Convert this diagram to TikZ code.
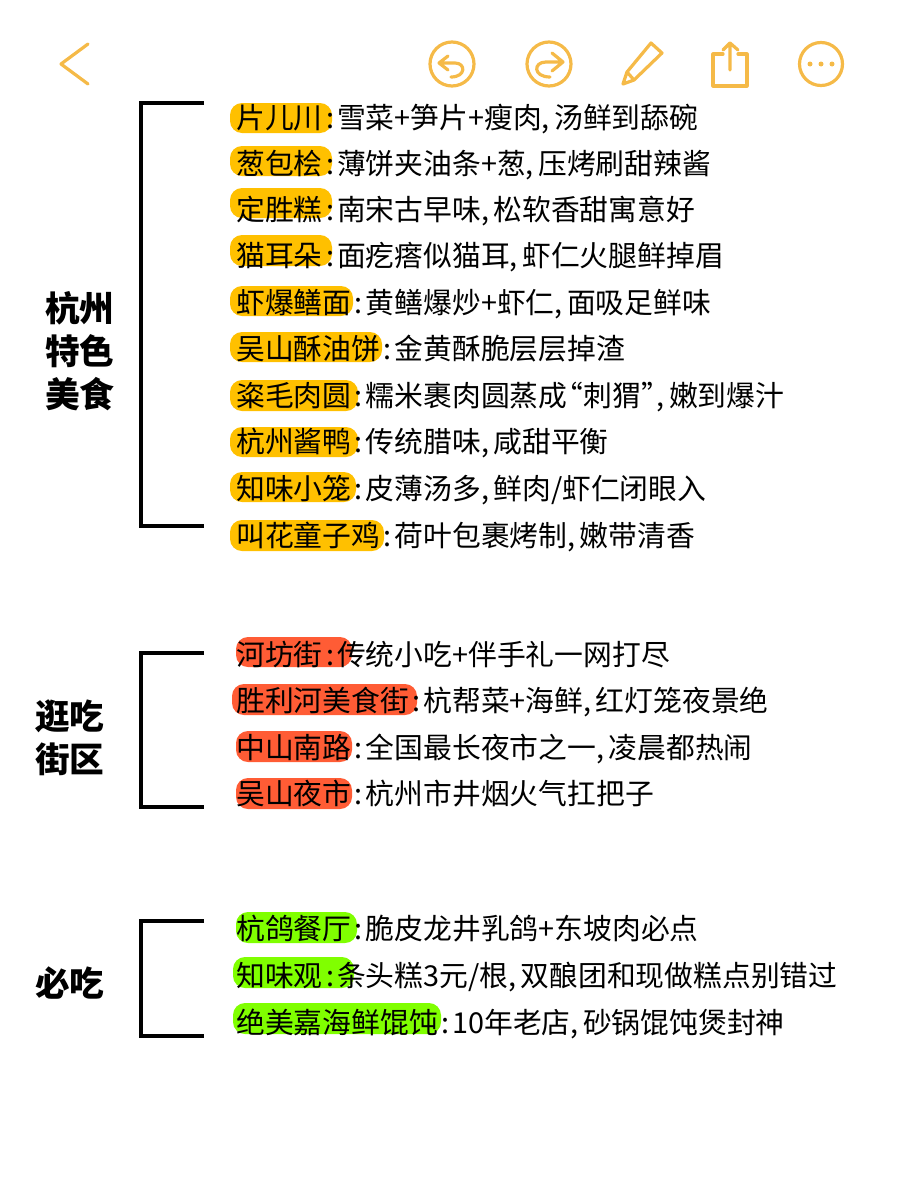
\documentclass[tikz,border=0pt]{standalone}
\usepackage{fontspec}
\setmainfont{Noto Sans CJK SC}
\usepackage{xcolor}
\usetikzlibrary{positioning}
\definecolor{iconcolor}{RGB}{245,186,72}
\definecolor{foodcolor}{RGB}{255,192,0}
\definecolor{streetcolor}{RGB}{255,92,53}
\definecolor{mustcolor}{RGB}{128,255,0}
\newcommand{\lsep}{\kern2.6pt:\kern2.3pt}
\newcommand{\csep}{,\kern3.2pt}

\begin{document}
\begin{tikzpicture}[
    x=0.75pt, y=-0.75pt,
    line/.style={anchor=west, inner sep=0pt, text height=19.25pt, text depth=2.5pt, font=\fontsize{21.6}{26}\selectfont},
    title/.style={anchor=center, inner sep=0pt, align=center, font=\fontsize{26}{32}\selectfont\bfseries},
    pill/.style={rounded corners=9pt},
    bracket/.style={draw, line width=3pt, miter limit=10},
    icon/.style={draw=iconcolor, line width=2.4pt, line cap=round, line join=round}
]
    \useasboundingbox (0,0) rectangle (900,1200);

    % top bar
    \draw[icon] (88,44) -- (61,64) -- (88,84);
    \draw[icon] (452,64) circle (22);
    \draw[icon] (448,56) -- (439,63) -- (448,70) (439,63) -- (455,63) .. controls (466,63) and (466,77) .. (451,77);
    \draw[icon] (549,64) circle (22);
    \draw[icon] (552,53) -- (563,62) -- (552,71) (563,62) -- (546,62) .. controls (533,62) and (533,77) .. (550,77);
    \draw[icon] (623,84) -- (627,72) -- (651,43) -- (662,53) -- (634,80) -- cycle (627,72) -- (634,80);
    \draw[icon] (723,54) -- (713,54) -- (713,86) -- (747,86) -- (747,54) -- (738,54);
    \draw[icon] (730,70) -- (730,43) (723,50) -- (730,43) -- (738,50);
    \draw[icon] (821,64) circle (21.5);
    \fill[iconcolor] (810,64) circle (2.5) (821,64) circle (2.5) (832,64) circle (2.5);

    % highlights
    \fill[foodcolor, pill] (230,103) rectangle (332,133);
    \fill[foodcolor, pill] (230,146) rectangle (332,176);
    \fill[foodcolor, pill] (230,188) rectangle (332,218);
    \fill[foodcolor, pill] (230,235) rectangle (332,266);
    \fill[foodcolor, pill] (230,286) rectangle (353,316);
    \fill[foodcolor, pill] (230,332) rectangle (382,362);
    \fill[foodcolor, pill] (230,380) rectangle (358,411);
    \fill[foodcolor, pill] (230,427) rectangle (358,457);
    \fill[foodcolor, pill] (230,472) rectangle (356,502);
    \fill[foodcolor, pill] (230,520) rectangle (384,551);
    \fill[streetcolor, pill] (236,637) rectangle (352,667);
    \fill[streetcolor, pill] (232,684) rectangle (417,715);
    \fill[streetcolor, pill] (236,731) rectangle (352,762);
    \fill[streetcolor, pill] (236,778) rectangle (352,809);
    \fill[mustcolor, pill] (236,912) rectangle (357,943);
    \fill[mustcolor, pill] (233,957) rectangle (354,988);
    \fill[mustcolor, pill] (233,1003) rectangle (441,1034);

    % brackets
    \coordinate (foodtop) at (204,103);
    \coordinate (foodbottom) at (204,526);
    \coordinate (streettop) at (204,653);
    \coordinate (streetbottom) at (204,807);
    \coordinate (musttop) at (204,921);
    \coordinate (mustbottom) at (204,1036);
    \draw[bracket] (foodtop) -- ++(-63,0) |- (foodbottom);
    \draw[bracket] (streettop) -- ++(-63,0) |- (streetbottom);
    \draw[bracket] (musttop) -- ++(-63,0) |- (mustbottom);

    % section titles
    \node[title] (food) at (80,351) {杭州\\特色\\美食};
    \node[title] (street) at (70,738) {逛吃\\街区};
    \node[title] (must) at (70,983) {必吃};

    % food lines
    \node[line] (pianer) at (236,117) {片儿川\lsep 雪菜+笋片+瘦肉\csep 汤鲜到舔碗};
    \node[line] (conggui) at (236,163) {葱包桧\lsep 薄饼夹油条+葱\csep 压烤刷甜辣酱};
    \node[line] (dingsheng) at (236,209) {定胜糕\lsep 南宋古早味\csep 松软香甜寓意好};
    \node[line] (maoer) at (236,255) {猫耳朵\lsep 面疙瘩似猫耳\csep 虾仁火腿鲜掉眉};
    \node[line] (xiabao) at (236,302) {虾爆鳝面\lsep 黄鳝爆炒+虾仁\csep 面吸足鲜味};
    \node[line] (wushan) at (236,348) {吴山酥油饼\lsep 金黄酥脆层层掉渣};
    \node[line] (cimao) at (236,395) {粢毛肉圆\lsep 糯米裹肉圆蒸成\kern-9.75pt“刺猬”\kern-9.75pt\csep 嫩到爆汁};
    \node[line] (jiangya) at (236,441) {杭州酱鸭\lsep 传统腊味\csep 咸甜平衡};
    \node[line] (xiaolong) at (236,488) {知味小笼\lsep 皮薄汤多\csep 鲜肉/虾仁闭眼入};
    \node[line] (jiaohua) at (236,535) {叫花童子鸡\lsep 荷叶包裹烤制\csep 嫩带清香};

    % street lines
    \node[line] (hefang) at (236,654) {河坊街\lsep 传统小吃+伴手礼一网打尽};
    \node[line] (shengli) at (236,700) {胜利河美食街\lsep 杭帮菜+海鲜\csep 红灯笼夜景绝};
    \node[line] (zhongshan) at (236,747) {中山南路\lsep 全国最长夜市之一\csep 凌晨都热闹};
    \node[line] (yeshi) at (236,793) {吴山夜市\lsep 杭州市井烟火气扛把子};

    % must-eat lines
    \node[line] (hangge) at (236,928) {杭鸽餐厅\lsep 脆皮龙井乳鸽+东坡肉必点};
    \node[line] (zhiwei) at (236,975) {知味观\lsep 条头糕3元/根\csep 双酿团和现做糕点别错过};
    \node[line] (juemei) at (236,1022) {绝美嘉海鲜馄饨\lsep 10年老店\csep 砂锅馄饨煲封神};
\end{tikzpicture}
\end{document}
